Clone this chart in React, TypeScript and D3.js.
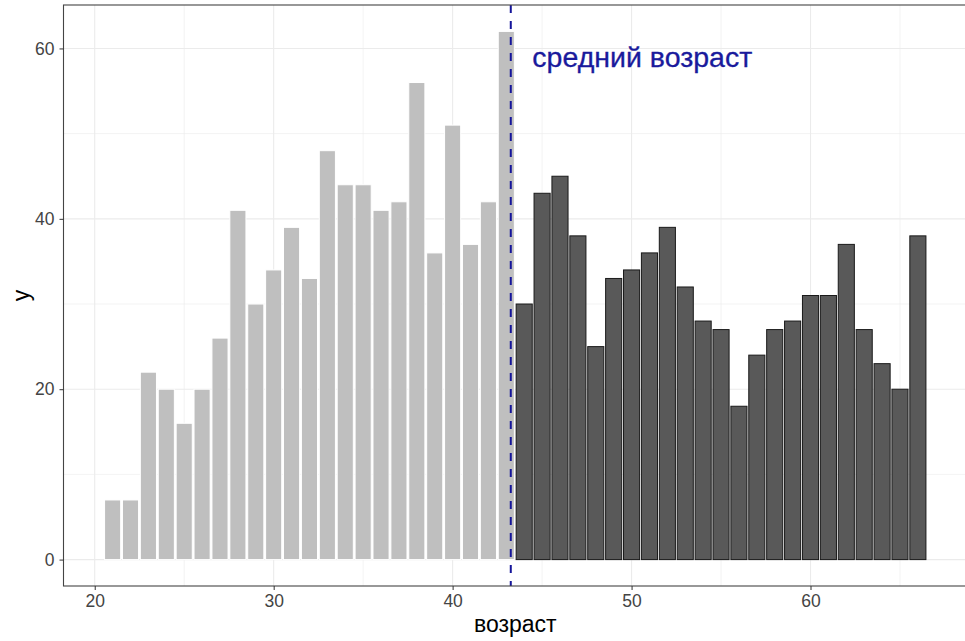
import * as d3 from 'd3';
import React, { useEffect, useRef } from 'react';

// ages on the x axis
const ages: number[] = d3.range(21, 67);

// counts per age
const counts: number[] = [
  7, 7, 22, 20, 16, 20, 26, 41, 30, 34, 39, 33, 48, 44, 44, 41, 42, 56, 36, 51, 37, 42, 62,
  30, 43, 45, 38, 25, 33, 34, 36, 39, 32, 28, 27, 18, 24, 27, 28, 31, 31, 37, 27, 23, 20, 38,
];

const meanAge = 43.25;
const xTicks = [20, 30, 40, 50, 60];
const yTicks = [0, 20, 40, 60];
const xMinor = [25, 35, 45, 55, 65];
const yMinor = [10, 30, 50];
const annotation = 'средний возраст';
const xTitle = 'возраст';
const yTitle = 'y';

interface Row {
  age: number;
  n: number;
}

const App: React.FC = () => {
  const ref = useRef<SVGSVGElement>(null);

  useEffect(() => {
    if (!ref.current) return;
    const width = 965;
    const height = 641;
    const left = 63.5;
    const right = 967;
    const top = 5;
    const bottom = 586;
    const font = '"Liberation Sans", Arial, sans-serif';

    const data: Row[] = ages.map((age, i) => ({ age, n: counts[i] }));

    const svg = d3.select(ref.current);
    svg.selectAll('*').remove();
    svg.attr('width', width).attr('height', height);

    const barW = 0.9;
    const xMin = ages[0] - barW / 2;
    const xMax = ages[ages.length - 1] + barW / 2;
    const xPad = (xMax - xMin) * 0.05;
    const x = d3.scaleLinear().domain([xMin - xPad, xMax + xPad]).range([left, right]);
    const yMax = d3.max(counts) as number;
    const y = d3.scaleLinear().domain([-yMax * 0.05, yMax * 1.05]).range([bottom, top]);

    const grid = svg.append('g');
    grid.selectAll('.vmin').data(xMinor).enter().append('line')
      .attr('x1', d => x(d)).attr('x2', d => x(d)).attr('y1', top).attr('y2', bottom)
      .attr('stroke', '#ebebeb').attr('stroke-width', 0.6);
    grid.selectAll('.hmin').data(yMinor).enter().append('line')
      .attr('x1', left).attr('x2', right).attr('y1', d => y(d)).attr('y2', d => y(d))
      .attr('stroke', '#ebebeb').attr('stroke-width', 0.6);
    grid.selectAll('.vmaj').data(xTicks).enter().append('line')
      .attr('x1', d => x(d)).attr('x2', d => x(d)).attr('y1', top).attr('y2', bottom)
      .attr('stroke', '#ebebeb').attr('stroke-width', 1.1);
    grid.selectAll('.hmaj').data(yTicks).enter().append('line')
      .attr('x1', left).attr('x2', right).attr('y1', d => y(d)).attr('y2', d => y(d))
      .attr('stroke', '#ebebeb').attr('stroke-width', 1.1);

    const bw = x(barW) - x(0);
    svg.append('g').selectAll('rect').data(data).enter().append('rect')
      .attr('x', d => x(d.age) - bw / 2)
      .attr('width', bw)
      .attr('y', d => y(d.n))
      .attr('height', d => y(0) - y(d.n))
      .attr('fill', d => (d.age < meanAge ? '#bfbfbf' : '#595959'))
      .attr('stroke', d => (d.age < meanAge ? '#ffffff' : '#1a1a1a'))
      .attr('stroke-width', 1);

    svg.append('line')
      .attr('x1', x(meanAge)).attr('x2', x(meanAge))
      .attr('y1', top).attr('y2', bottom)
      .attr('stroke', '#15159a').attr('stroke-width', 2)
      .attr('stroke-dasharray', '8,8');

    svg.append('text')
      .attr('x', x(50.6)).attr('y', y(59))
      .attr('dy', '0.35em')
      .attr('text-anchor', 'middle')
      .attr('font-family', font).attr('font-size', 28.5)
      .attr('fill', '#1a1a9c')
      .attr('stroke', '#1a1a9c').attr('stroke-width', 0.3)
      .text(annotation);

    // panel border
    svg.append('rect')
      .attr('x', left).attr('y', top)
      .attr('width', right - left).attr('height', bottom - top)
      .attr('fill', 'none').attr('stroke', '#444').attr('stroke-width', 1.1);

    const xAxis = svg.append('g').attr('transform', `translate(0,${bottom})`)
      .call(d3.axisBottom(x).tickValues(xTicks).tickSize(4).tickPadding(5).tickFormat(d3.format('d')));
    xAxis.select('.domain').remove();
    xAxis.selectAll('line').attr('stroke', '#333');
    xAxis.selectAll('text').attr('font-family', font).attr('font-size', 17.5).attr('fill', '#444');

    const yAxis = svg.append('g').attr('transform', `translate(${left},0)`)
      .call(d3.axisLeft(y).tickValues(yTicks).tickSize(4).tickPadding(5).tickFormat(d3.format('d')));
    yAxis.select('.domain').remove();
    yAxis.selectAll('line').attr('stroke', '#333');
    yAxis.selectAll('text').attr('font-family', font).attr('font-size', 17.5).attr('fill', '#444');

    svg.append('text')
      .attr('x', (left + right) / 2).attr('y', 632)
      .attr('text-anchor', 'middle')
      .attr('font-family', font).attr('font-size', 23)
      .attr('fill', '#000')
      .text(xTitle);

    svg.append('text')
      .attr('transform', `translate(29,${(top + bottom) / 2}) rotate(-90)`)
      .attr('text-anchor', 'middle')
      .attr('font-family', font).attr('font-size', 23)
      .attr('fill', '#000')
      .text(yTitle);
  }, []);

  return <svg ref={ref} style={{ position: 'absolute', left: 0, top: 0 }} />;
};

export default App;
